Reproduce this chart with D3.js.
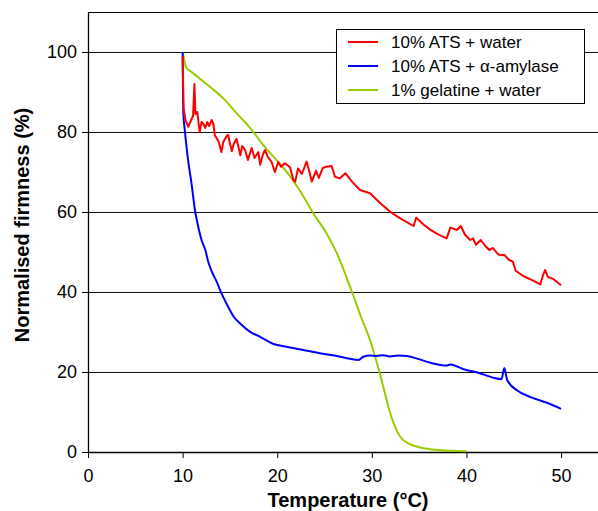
<!DOCTYPE html>
<html>
<head>
<meta charset="utf-8">
<script src="https://cdn.jsdelivr.net/npm/d3@7"></script>
<style>
  body { margin: 0; background: #fff; }
  svg { display: block; font-family: "Liberation Sans", Arial, sans-serif; }
</style>
</head>
<body>
<svg id="chart" width="598" height="511"></svg>
<script>
// values: [temperature °C, normalised firmness %]
var atsWater = [
  [10,99],[10.1,86],[10.3,83],[10.6,81.3],[10.9,83],[11.1,84],[11.25,92],[11.35,84.5],
  [11.55,85],[11.8,80],[12,82.5],[12.2,82],[12.4,81],[12.6,82.5],[12.8,81.5],[13.07,83],
  [13.25,82],[13.4,79.2],[13.8,77.6],[14.1,75],[14.3,77.5],[14.6,78.8],[14.8,79.3],
  [15,77.2],[15.2,75.2],[15.4,77],[15.7,78.3],[16.1,74.2],[16.3,76.5],[16.6,75.5],
  [16.9,73],[17.3,76],[17.6,73.5],[18,75],[18.2,71.8],[18.5,74.5],[18.7,75.5],[19,73.8],
  [19.4,72.5],[19.75,70],[20.1,72.5],[20.4,71.3],[20.8,72.2],[21.35,71.2],[21.7,68],
  [21.9,67.6],[22.2,70.9],[22.6,69.5],[23.1,72.6],[23.4,70],[23.65,67.6],[24.1,70.3],
  [24.4,68.5],[24.8,71],[25.2,71.3],[25.75,71.5],[26.1,68.8],[26.6,68.4],[27.2,69.7],
  [27.9,67.6],[28.75,65.5],[29.8,64.7],[30.9,62.2],[31.9,60.1],[33,58.4],[34.4,56.5],
  [34.7,58.6],[35.3,57.2],[36.15,55.6],[37,54.4],[37.9,53.4],[38.3,56.1],[39,55.5],
  [39.4,56.5],[39.85,54.3],[40.4,53],[40.7,53.4],[41,51.8],[41.5,53],[42,51.5],[42.4,50.5],
  [42.8,51],[43.3,49.5],[43.55,49.2],[44,49.3],[44.5,48],[44.9,47.6],[45.2,45.3],[46,44],
  [47.1,42.8],[47.8,41.9],[48.1,44.3],[48.3,45.5],[48.6,43.8],[49.2,43.2],[50,41.7]
];

var atsAmylase = [
  [10,100],[10.03,92],[10.07,85],[10.25,80],[10.6,72.6],[10.96,66.8],[11.3,60.5],
  [11.5,58],[12,53],[12.4,50.5],[12.7,47.6],[13.1,45],[13.6,42.6],[14.1,39.7],
  [14.7,36.8],[15.4,33.8],[16.25,31.75],[17.1,30.1],[18.2,28.8],[19.6,27],[21,26.3],
  [22.75,25.5],[24.5,24.7],[26.3,24],[27.7,23.3],[28.6,23],[29.1,23.8],[29.8,24.1],
  [30.5,24],[31.2,24.2],[31.9,23.9],[32.8,24.1],[33.7,24],[34.7,23.4],[36.2,22.3],
  [37.9,21.6],[38.3,21.9],[39.7,20.7],[41.4,19.7],[42.8,18.6],[43.7,18.2],[44,21],
  [44.3,18],[45.3,15.5],[46.7,13.8],[48.5,12.3],[50,10.8]
];

var gelatineWater = [
  [10,100],[10.4,96],[11,94.9],[12.2,92.6],[13.3,90.5],[14.3,88.4],[15.7,84.7],
  [17.1,81.1],[18.5,76.8],[20,72.8],[21.4,68.8],[22.4,65.3],[23.8,59.7],[25.2,54.7],
  [26.3,49.7],[27.9,40],[28.9,33.5],[29.8,28],[30.8,20],[31.4,14.5],[31.9,10],
  [32.4,6.6],[33,3.8],[34,2],[35,1.2],[36.2,0.7],[38.3,0.3],[40,0.2]
];

var seriesNames = ["10% ATS + water", "10% ATS + \u03b1-amylase", "1% gelatine + water"];
var seriesColors = ["#ff0000", "#0000ff", "#99cc00"];
var xTicks = [0, 10, 20, 30, 40, 50];
var yTicks = [0, 20, 40, 60, 80, 100];

var svg = d3.select("#chart");
var plot = { left: 88, right: 598, top: 12, bottom: 452 };

var x = d3.scaleLinear().domain([0, 53.9]).range([plot.left, plot.right]);
var y = d3.scaleLinear().domain([0, 110]).range([plot.bottom, plot.top]);

// horizontal grid lines
svg.append("g")
  .selectAll("line")
  .data(yTicks.filter(function(d) { return d > 0; }))
  .join("line")
    .attr("x1", plot.left).attr("x2", plot.right)
    .attr("y1", function(d) { return Math.round(y(d)) + 0.5; })
    .attr("y2", function(d) { return Math.round(y(d)) + 0.5; })
    .attr("stroke", "#111").attr("stroke-width", 1.2);

// top frame line
svg.append("line")
  .attr("x1", plot.left).attr("x2", plot.right)
  .attr("y1", plot.top + 0.5).attr("y2", plot.top + 0.5)
  .attr("stroke", "#000");

var xAxis = svg.append("g")
  .attr("transform", "translate(0," + plot.bottom + ")")
  .call(d3.axisBottom(x).tickValues(xTicks).tickSize(6).tickSizeOuter(0));
xAxis.select(".domain").attr("stroke-width", 1.3);
xAxis.selectAll("text").attr("font-size", 18).attr("font-family", "Liberation Sans, Arial").attr("dy", "1.15em").attr("fill", "#000");

var yAxis = svg.append("g")
  .attr("transform", "translate(" + plot.left + ",0)")
  .call(d3.axisLeft(y).tickValues(yTicks).tickSize(6).tickSizeOuter(0));
yAxis.select(".domain").attr("stroke-width", 1.3);
yAxis.selectAll("text").attr("font-size", 18).attr("font-family", "Liberation Sans, Arial").attr("x", -11).attr("fill", "#000");

// series: the noisy one is drawn straight, the smooth ones with a monotone curve
var lineRaw = d3.line()
  .x(function(d) { return x(d[0]); })
  .y(function(d) { return y(d[1]); });
var lineSmooth = d3.line()
  .curve(d3.curveMonotoneX)
  .x(function(d) { return x(d[0]); })
  .y(function(d) { return y(d[1]); });

var allSeries = [atsWater, atsAmylase, gelatineWater];
svg.append("g")
  .selectAll("path")
  .data([2, 1, 0])
  .join("path")
    .attr("d", function(i) { return (i === 0 ? lineRaw : lineSmooth)(allSeries[i]); })
    .attr("fill", "none")
    .attr("stroke", function(i) { return seriesColors[i]; })
    .attr("stroke-width", 2)
    .attr("stroke-linejoin", "round");

// axis titles
svg.append("text")
  .attr("x", 348).attr("y", 507)
  .attr("text-anchor", "middle")
  .attr("font-size", 20).attr("font-weight", "bold")
  .text("Temperature (\u00b0C)");

svg.append("text")
  .attr("transform", "translate(29,225) rotate(-90)")
  .attr("text-anchor", "middle")
  .attr("font-size", 20).attr("font-weight", "bold")
  .text("Normalised firmness (%)");

// legend
var legend = svg.append("g").attr("transform", "translate(336,29)");
legend.append("rect")
  .attr("x", 0.5).attr("y", 0.5).attr("width", 248).attr("height", 74)
  .attr("fill", "#fff").attr("stroke", "#000");
var items = legend.selectAll("g.item")
  .data(seriesNames)
  .join("g")
    .attr("class", "item")
    .attr("transform", function(d, i) { return "translate(0," + (13 + i * 24) + ")"; });
items.append("line")
  .attr("x1", 12).attr("x2", 42)
  .attr("stroke", function(d, i) { return seriesColors[i]; })
  .attr("stroke-width", 2);
items.append("text")
  .attr("x", 55).attr("y", 6)
  .attr("font-size", 17)
  .text(function(d) { return d; });
</script>
</body>
</html>
